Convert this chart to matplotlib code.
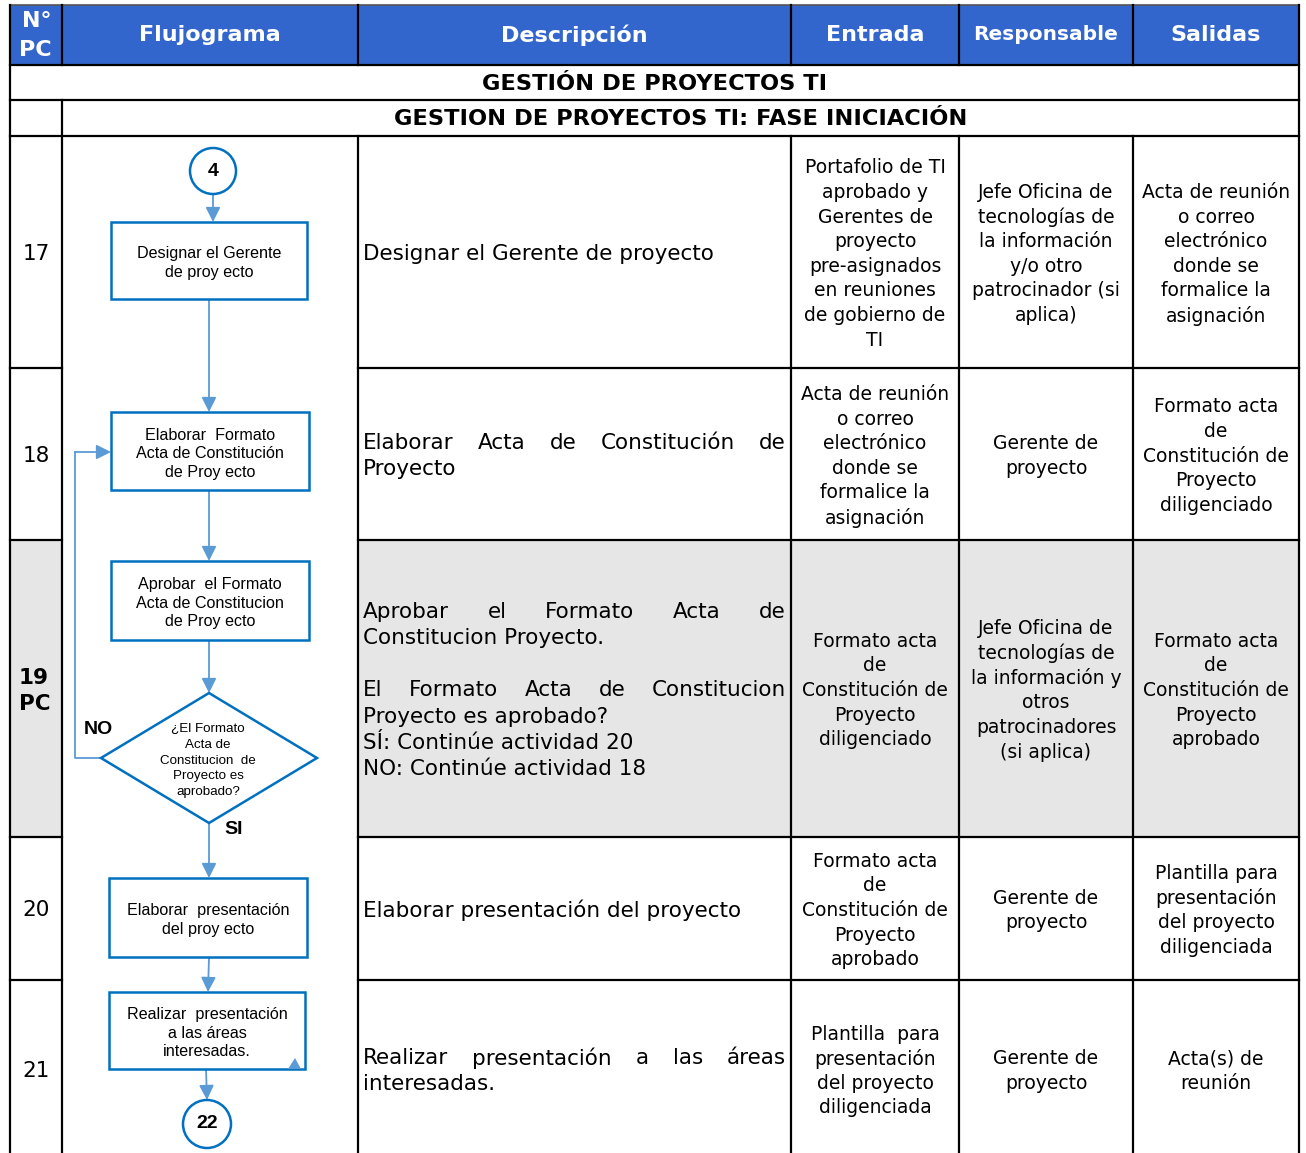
import matplotlib
matplotlib.use("Agg")
import matplotlib.pyplot as plt
from matplotlib.patches import Rectangle, Circle, Polygon

# ---------------- data ----------------
header_labels = ["Flujograma", "Descripción", "Entrada", "Responsable", "Salidas"]
title_main = "GESTIÓN DE PROYECTOS TI"
title_phase = "GESTION DE PROYECTOS TI: FASE INICIACIÓN"

row_ids = ["17", "18", "19\nPC", "20", "21"]

# (line, justified)
descripciones = [
    [("Designar el Gerente de proyecto", False)],
    [("Elaborar Acta de Constitución de", True), ("Proyecto", False)],
    [("Aprobar el Formato Acta de", True), ("Constitucion Proyecto.", False), ("", False),
     ("El Formato Acta de Constitucion", True), ("Proyecto es aprobado?", False),
     ("SÍ: Continúe actividad 20", False), ("NO: Continúe actividad 18", False)],
    [("Elaborar presentación del proyecto", False)],
    [("Realizar presentación a las áreas", True), ("interesadas.", False)],
]

entradas = [
    ["Portafolio de TI", "aprobado y", "Gerentes de", "proyecto", "pre-asignados",
     "en reuniones", "de gobierno de", "TI"],
    ["Acta de reunión", "o correo", "electrónico", "donde se", "formalice la", "asignación"],
    ["Formato acta", "de", "Constitución de", "Proyecto", "diligenciado"],
    ["Formato acta", "de", "Constitución de", "Proyecto", "aprobado"],
    ["Plantilla  para", "presentación", "del proyecto", "diligenciada"],
]

responsables = [
    ["Jefe Oficina de", "tecnologías de", "la información", "y/o otro", "patrocinador (si", "aplica)"],
    ["Gerente de", "proyecto"],
    ["Jefe Oficina de", "tecnologías de", "la información y", "otros", "patrocinadores", "(si aplica)"],
    ["Gerente de", "proyecto"],
    ["Gerente de", "proyecto"],
]

salidas = [
    ["Acta de reunión", "o correo", "electrónico", "donde se", "formalice la", "asignación"],
    ["Formato acta", "de", "Constitución de", "Proyecto", "diligenciado"],
    ["Formato acta", "de", "Constitución de", "Proyecto", "aprobado"],
    ["Plantilla para", "presentación", "del proyecto", "diligenciada"],
    ["Acta(s) de", "reunión"],
]

box_texts = [
    "Designar el Gerente\nde proy ecto",
    "Elaborar  Formato\nActa de Constitución\nde Proy ecto",
    "Aprobar  el Formato\nActa de Constitucion\nde Proy ecto",
    "Elaborar  presentación\ndel proy ecto",
    "Realizar  presentación\na las áreas\ninteresadas.",
]
decision_text = "¿El Formato\nActa de\nConstitucion  de\nProyecto es\naprobado?"
start_label, end_label = "4", "22"

# ---------------- layout ----------------
W, H = 1306, 1153
cols = [10, 62, 358, 791, 959, 1133, 1299]
head_top, head_bot = 5, 65
t1_bot, t2_bot = 100, 136
rows = [136, 368, 540, 837, 980, 1158]
gray_row = 2

BLUE_HEAD = "#3366CC"
GRAY = "#E6E6E6"
BOX_EDGE = "#0070C0"
ARROW = "#5B9BD5"

# flowchart geometry (x0, y0, x1, y1)
boxes = [(111, 222, 307, 299), (111, 412, 309, 490), (111, 561, 309, 640),
         (109, 878, 307, 957), (109, 992, 305, 1069)]
diamond = (209, 758, 108, 65)  # cx, cy, half-w, half-h
c_start = (213, 171, 23)
c_end = (207, 1124, 24)

BODY = "DejaVu Sans"
FLOW = "Liberation Sans"
FS = 13.5
LS = 24.6
FS_D = 15.5
LS_D = 26.2
FS_HEAD = 16

fig = plt.figure(figsize=(W / 100, H / 100), dpi=100)
ax = fig.add_axes([0, 0, 1, 1])
ax.set_xlim(0, W)
ax.set_ylim(H, 0)
ax.axis("off")
renderer = fig.canvas.get_renderer()

# header
ax.add_patch(Rectangle((cols[0], head_top), cols[-1] - cols[0], head_bot - head_top,
                       facecolor=BLUE_HEAD, edgecolor="none"))
ax.text(22, 21, "N°", color="white", fontsize=FS_HEAD, fontweight="bold", family=BODY,
        ha="left", va="center")
ax.text(19, 50, "PC", color="white", fontsize=FS_HEAD, fontweight="bold", family=BODY,
        ha="left", va="center")
for i, lab in enumerate(header_labels):
    xc = (cols[i + 1] + cols[i + 2]) / 2
    fs = 14.5 if lab == "Responsable" else FS_HEAD
    ax.text(xc, 35, lab, color="white", fontsize=fs, fontweight="bold", family=BODY,
            ha="center", va="center")

# titles
ax.text((cols[0] + cols[-1]) / 2, 83.5, title_main, fontsize=16.2, fontweight="bold",
        family=BODY, ha="center", va="center")
ax.text((cols[1] + cols[-1]) / 2, 119, title_phase, fontsize=16.2, fontweight="bold",
        family=BODY, ha="center", va="center")

# gray row
g0, g1 = rows[gray_row], rows[gray_row + 1]
ax.add_patch(Rectangle((cols[0], g0), cols[1] - cols[0], g1 - g0, facecolor=GRAY, edgecolor="none"))
ax.add_patch(Rectangle((cols[2], g0), cols[-1] - cols[2], g1 - g0, facecolor=GRAY, edgecolor="none"))

# grid lines
LW = 1.6
ax.plot([cols[0], cols[-1]], [head_top, head_top], color="#555555", lw=1.2)
for y in [head_bot, t1_bot, t2_bot]:
    ax.plot([cols[0], cols[-1]], [y, y], color="black", lw=LW)
for y in rows[1:-1]:
    ax.plot([cols[0], cols[1]], [y, y], color="black", lw=LW)
    ax.plot([cols[2], cols[-1]], [y, y], color="black", lw=LW)
for i, x in enumerate(cols):
    if i in (0, len(cols) - 1):
        ax.plot([x, x], [head_top, H], color="black", lw=LW)
    elif i == 1:
        ax.plot([x, x], [head_top, head_bot], color="black", lw=LW)
        ax.plot([x, x], [t1_bot, H], color="black", lw=LW)
    else:
        ax.plot([x, x], [head_top, head_bot], color="black", lw=LW)
        ax.plot([x, x], [t2_bot, H], color="black", lw=LW)


def centered_lines(xc, yc, lines, ls, **kw):
    n = len(lines)
    for k, s in enumerate(lines):
        ax.text(xc, yc + (k - (n - 1) / 2) * ls, s, ha="center", va="center_baseline", **kw)


def desc_lines(x0, x1, yc, lines, ls, **kw):
    n = len(lines)
    for k, (s, just) in enumerate(lines):
        y = yc + (k - (n - 1) / 2) * ls
        if not s:
            continue
        if not just:
            ax.text(x0, y, s, ha="left", va="center_baseline", **kw)
            continue
        words = s.split()
        ts = [ax.text(0, y, w, ha="left", va="center_baseline", **kw) for w in words]
        widths = [t.get_window_extent(renderer).width for t in ts]
        gap = (x1 - x0 - sum(widths)) / (len(words) - 1)
        x = x0
        for t, w in zip(ts, widths):
            t.set_x(x)
            x += w + gap


for r in range(5):
    y0, y1 = rows[r], rows[r + 1]
    yc = (y0 + y1) / 2
    rid = row_ids[r]
    if "\n" in rid:
        a, b = rid.split("\n")
        ax.text(19, yc - 13, a, fontsize=15.5, fontweight="bold", family=BODY, va="center_baseline")
        ax.text(19, yc + 14, b, fontsize=15.5, fontweight="bold", family=BODY, va="center_baseline")
    else:
        ax.text((cols[0] + cols[1]) / 2, yc, rid, fontsize=15.5, family=BODY,
                ha="center", va="center_baseline")
    desc_lines(cols[2] + 5, cols[3] - 5, yc, descripciones[r], LS_D, fontsize=FS_D, family=BODY)
    centered_lines((cols[3] + cols[4]) / 2, yc, entradas[r], LS, fontsize=FS, family=BODY)
    centered_lines((cols[4] + cols[5]) / 2, yc, responsables[r], LS, fontsize=FS, family=BODY)
    centered_lines((cols[5] + cols[6]) / 2, yc, salidas[r], LS, fontsize=FS, family=BODY)

# ---------------- flowchart ----------------
for (x0, y0, x1, y1), txt in zip(boxes, box_texts):
    ax.add_patch(Rectangle((x0, y0), x1 - x0, y1 - y0, facecolor="white",
                           edgecolor=BOX_EDGE, lw=1.8, zorder=3))
    lines = txt.split("\n")
    centered_lines((x0 + x1) / 2, (y0 + y1) / 2 + 1, lines, 18.5, fontsize=11.6,
                   family=FLOW, zorder=4)

cx, cy, hw, hh = diamond
ax.add_patch(Polygon([(cx, cy - hh), (cx + hw, cy), (cx, cy + hh), (cx - hw, cy)],
                     closed=True, facecolor="white", edgecolor=BOX_EDGE, lw=1.8, zorder=3))
centered_lines(cx - 1, cy + 1, decision_text.split("\n"), 15.8, fontsize=9.6, family=FLOW, zorder=4)

for (x, y, r), lab in [(c_start, start_label), (c_end, end_label)]:
    ax.add_patch(Circle((x, y), r, facecolor="white", edgecolor=BOX_EDGE, lw=1.8, zorder=3))
    ax.text(x, y, lab, fontsize=14, fontweight="bold", family=FLOW, ha="center",
            va="center", zorder=4)


def arrow(p0, p1):
    ax.annotate("", xy=p1, xytext=p0,
                arrowprops=dict(arrowstyle="-|>", color=ARROW, lw=1.3,
                                mutation_scale=22, shrinkA=0, shrinkB=0), zorder=2)


arrow((c_start[0], c_start[1] + c_start[2]), (c_start[0], boxes[0][1]))
arrow((209, boxes[0][3]), (209, boxes[1][1]))
arrow((209, boxes[1][3]), (209, boxes[2][1]))
arrow((209, boxes[2][3]), (cx, cy - hh))
arrow((cx, cy + hh), (209, boxes[3][1]))
arrow((209, boxes[3][3]), (208, boxes[4][1]))
arrow((206, boxes[4][3]), (c_end[0], c_end[1] - c_end[2]))

# NO loop back to activity 18
loop_x = 75
ax.plot([cx - hw, loop_x, loop_x], [cy, cy, 452], color=ARROW, lw=1.3, zorder=2)
arrow((loop_x, 452), (boxes[1][0], 452))

# small stray arrowhead at box corner
ax.add_patch(Polygon([(288, 1069), (301, 1069), (295, 1058)], closed=True,
                     facecolor=ARROW, edgecolor="none", zorder=4))

ax.text(84, 730, "NO", fontsize=14, fontweight="bold", family=FLOW, va="center")
ax.text(224, 830, "SI", fontsize=14, fontweight="bold", family=FLOW, va="center")

fig.savefig("out.png", dpi=100)
